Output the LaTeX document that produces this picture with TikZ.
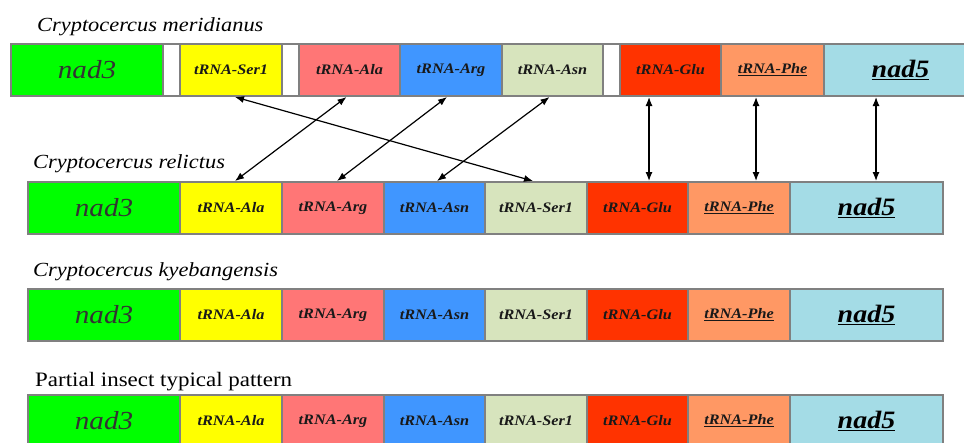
\documentclass[tikz,border=0pt]{standalone}
\usepackage{fontspec}
\setmainfont[FakeStretch=1.12]{Liberation Serif}
\usetikzlibrary{arrows.meta}
\definecolor{cgreen}{HTML}{00FF00}
\definecolor{cyellow}{HTML}{FFFF00}
\definecolor{cpink}{HTML}{FF7676}
\definecolor{cblue}{HTML}{4096FF}
\definecolor{clgreen}{HTML}{D7E4BD}
\definecolor{cred}{HTML}{FF3300}
\definecolor{corange}{HTML}{FF9864}
\definecolor{clblue}{HTML}{A4DCE6}
\definecolor{cborder}{HTML}{808080}
\definecolor{ntext}{HTML}{333333}
\tikzset{
  cell/.style={rectangle, draw=cborder, line width=1.8pt, minimum height=52pt, inner sep=0pt, outer sep=0pt},
  trna/.style={font=\fontsize{14.5}{16}\selectfont\bfseries\itshape, text=black!90},
  nadA/.style={font=\fontsize{26}{28}\selectfont\itshape, text=ntext},
  nadB/.style={font=\fontsize{25}{28}\selectfont\bfseries\itshape, text=black},
  title/.style={anchor=base west, inner sep=0pt, font=\fontsize{20}{22}\selectfont\itshape},
  titleup/.style={anchor=base west, inner sep=0pt, font=\fontsize{20.5}{22}\selectfont},
  link/.style={{Latex[length=9pt,width=7pt]}-{Latex[length=9pt,width=7pt]}, line width=1.2pt, black, shorten <=0pt, shorten >=0pt}
}
\begin{document}
\begin{tikzpicture}[x=1pt,y=-1pt]
\useasboundingbox (0,0) rectangle (964,442);
\clip (0,0) rectangle (964,442);
% titles
\node[title] (t1) at (37,31) {Cryptocercus meridianus};
\node[title] (t2) at (33,168) {Cryptocercus relictus};
\node[title] (t3) at (33,276) {Cryptocercus kyebangensis};
\node[titleup] (t4) at (35,386) {Partial insect typical pattern};
% row 1
\node[cell, fill=cgreen, minimum width=152pt, nadA] (m-nad3) at (87,70) {nad3};
\node[cell, fill=white, minimum width=17pt] (m-g1) at (171.5,70) {};
\node[cell, fill=cyellow, minimum width=102pt, trna] (m-ser) at (231,70) {tRNA-Ser1};
\node[cell, fill=white, minimum width=17pt] (m-g2) at (290.5,70) {};
\node[cell, fill=cpink, minimum width=101pt, trna] (m-ala) at (349.5,70) {tRNA-Ala};
\node[cell, fill=cblue, minimum width=102pt, trna] (m-arg) at (451,70) {tRNA-Arg};
\node[cell, fill=clgreen, minimum width=101pt, trna] (m-asn) at (552.5,70) {tRNA-Asn};
\node[cell, fill=white, minimum width=17pt] (m-g3) at (611.5,70) {};
\node[cell, fill=cred, minimum width=101pt, trna] (m-glu) at (670.5,70) {tRNA-Glu};
\node[cell, fill=corange, minimum width=103pt, trna] (m-phe) at (772.5,70) {\underline{tRNA-Phe}};
\node[cell, fill=clblue, minimum width=153pt, nadB] (m-nad5) at (900.5,70) {\underline{nad5}};
% rows 2-4
\foreach \p/\y in {r/208, k/315, p/421}{
  \node[cell, fill=cgreen, minimum width=152pt, nadA] (\p-nad3) at (104,\y) {nad3};
  \node[cell, fill=cyellow, minimum width=102pt, trna] (\p-ala) at (231,\y) {tRNA-Ala};
  \node[cell, fill=cpink, minimum width=102pt, trna] (\p-arg) at (333,\y) {tRNA-Arg};
  \node[cell, fill=cblue, minimum width=101pt, trna] (\p-asn) at (434.5,\y) {tRNA-Asn};
  \node[cell, fill=clgreen, minimum width=102pt, trna] (\p-ser) at (536,\y) {tRNA-Ser1};
  \node[cell, fill=cred, minimum width=101pt, trna] (\p-glu) at (637.5,\y) {tRNA-Glu};
  \node[cell, fill=corange, minimum width=102pt, trna] (\p-phe) at (739,\y) {\underline{tRNA-Phe}};
  \node[cell, fill=clblue, minimum width=153pt, nadB] (\p-nad5) at (866.5,\y) {\underline{nad5}};
}
% connectors
\draw[link] ([xshift=4pt,yshift=-1pt]m-ser.south) -- ([xshift=-3pt,yshift=1pt]r-ser.north);
\draw[link] ([xshift=-3pt,yshift=-1pt]m-ala.south) -- ([xshift=4pt,yshift=1pt]r-ala.north);
\draw[link] ([xshift=-4pt,yshift=-1pt]m-arg.south) -- ([xshift=4pt,yshift=1pt]r-arg.north);
\draw[link] ([xshift=-3pt,yshift=-1pt]m-asn.south) -- ([xshift=2.5pt,yshift=1pt]r-asn.north);
\coordinate (v1) at (649,0);
\coordinate (v2) at (756,0);
\coordinate (v3) at (876,0);
\draw[link] ([yshift=-1pt]m-glu.south -| v1) -- ([yshift=1pt]r-glu.north -| v1);
\draw[link] ([yshift=-1pt]m-phe.south -| v2) -- ([yshift=1pt]r-phe.north -| v2);
\draw[link] ([yshift=-1pt]m-nad5.south -| v3) -- ([yshift=1pt]r-nad5.north -| v3);
\end{tikzpicture}
\end{document}
